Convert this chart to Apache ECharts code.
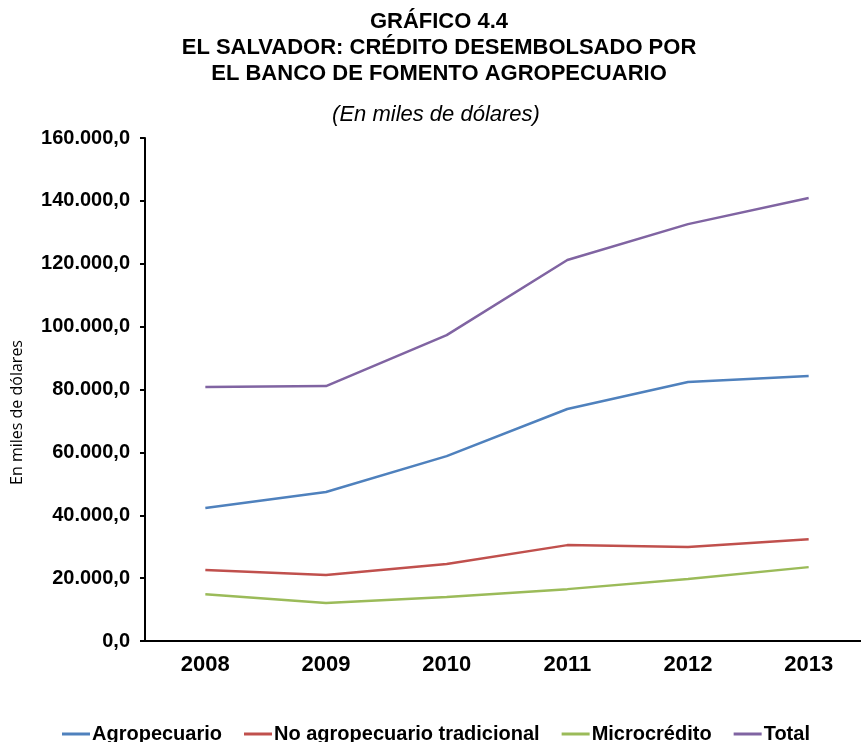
<!DOCTYPE html>
<html lang="es">
<head>
    <meta charset="UTF-8">
    <title>Gráfico 4.4</title>
    <style>
        html, body { margin: 0; padding: 0; background: #fff; overflow: hidden; }
        #chart { width: 861px; height: 742px; }
    </style>
</head>
<body>
    <div id="chart"></div>
    <script src="https://cdn.jsdelivr.net/npm/echarts@6/dist/echarts.min.js"></script>
    <script>
        // datos (miles de dólares)
        var years = ['2008', '2009', '2010', '2011', '2012', '2013'];
        var agropecuario = [42300, 47400, 58800, 73800, 82400, 84300];
        var noAgro = [22600, 21000, 24500, 30500, 29900, 32400];
        var microcredito = [14900, 12100, 14000, 16500, 19700, 23500];
        var total = [80800, 81100, 97300, 121200, 132600, 140900];
        var yTicks = [0, 20000, 40000, 60000, 80000, 100000, 120000, 140000, 160000];

        var chart = echarts.init(document.getElementById('chart'));

        function fmt(v) {
            var s = String(Math.round(v));
            s = s.replace(/\B(?=(\d{3})+(?!\d))/g, '.');
            return s + ',0';
        }

        function line(name, data, color) {
            return {
                name: name,
                type: 'line',
                data: data,
                symbol: 'none',
                lineStyle: { color: color, width: 2.5 },
                itemStyle: { color: color }
            };
        }

        var option = {
            animation: false,
            backgroundColor: '#fff',
            textStyle: { fontFamily: 'Liberation Sans, Arial, sans-serif' },
            title: [{
                text: 'GRÁFICO 4.4\nEL SALVADOR: CRÉDITO DESEMBOLSADO POR\nEL BANCO DE FOMENTO AGROPECUARIO',
                left: 439,
                top: 9,
                padding: 0,
                textAlign: 'center',
                textStyle: {
                    fontSize: 22,
                    fontWeight: 'bold',
                    color: '#000',
                    lineHeight: 26,
                    fontFamily: 'Liberation Sans, Arial, sans-serif'
                }
            }, {
                text: '(En miles de dólares)',
                left: 436,
                top: 104,
                padding: 0,
                textAlign: 'center',
                textStyle: {
                    fontSize: 22,
                    fontStyle: 'italic',
                    fontWeight: 'normal',
                    color: '#000',
                    fontFamily: 'Liberation Sans, Arial, sans-serif'
                }
            }],
            graphic: [{
                type: 'text',
                left: 9,
                top: 340,
                rotation: Math.PI / 2,
                style: {
                    text: 'En miles de dólares',
                    font: '16px "Open Sans", "Noto Sans", sans-serif',
                    fill: '#000'
                }
            }],
            legend: {
                top: 724,
                left: 62,
                padding: 0,
                itemGap: 22,
                itemWidth: 28,
                itemHeight: 3,
                icon: 'rect',
                textStyle: {
                    fontSize: 20,
                    fontWeight: 'bold',
                    color: '#000',
                    padding: [0, 0, 0, -3]
                },
                data: ['Agropecuario', 'No agropecuario tradicional', 'Microcrédito', 'Total']
            },
            grid: {
                left: 145,
                top: 138,
                bottom: 101,
                width: 724,
                containLabel: false,
                outerBoundsMode: 'none'
            },
            xAxis: {
                type: 'category',
                data: years,
                boundaryGap: true,
                axisLine: { lineStyle: { color: '#000', width: 2 } },
                axisTick: { alignWithLabel: true, length: 5, lineStyle: { color: '#000', width: 2 } },
                axisLabel: {
                    color: '#000',
                    fontSize: 22,
                    fontWeight: 'bold',
                    margin: 13
                }
            },
            yAxis: {
                type: 'value',
                min: 0,
                max: 160000,
                interval: 20000,
                axisLine: { show: true, lineStyle: { color: '#000', width: 2 } },
                axisTick: { show: true, length: 5, lineStyle: { color: '#000', width: 2 } },
                splitLine: { show: false },
                axisLabel: {
                    color: '#000',
                    fontSize: 20,
                    fontWeight: 'bold',
                    margin: 15,
                    formatter: function (v) {
                        return yTicks.indexOf(v) >= 0 ? fmt(v) : '';
                    }
                }
            },
            series: [
                line('Agropecuario', agropecuario, '#4F81BD'),
                line('No agropecuario tradicional', noAgro, '#C0504D'),
                line('Microcrédito', microcredito, '#9BBB59'),
                line('Total', total, '#8064A2')
            ]
        };

        chart.setOption(option);
    </script>
</body>
</html>
